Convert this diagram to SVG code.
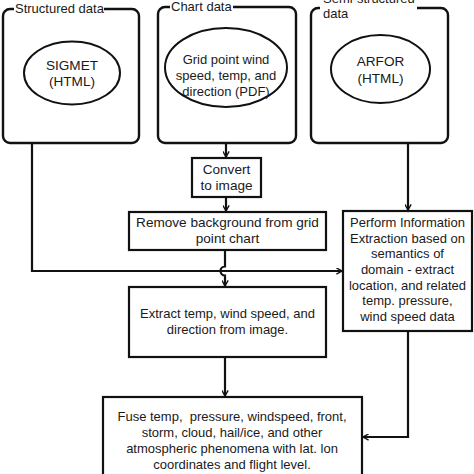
<svg xmlns="http://www.w3.org/2000/svg" width="474" height="474" viewBox="0 0 474 474">
<style>
.t{font-family:"Liberation Sans",Arial,sans-serif;font-size:13px;fill:#1a1a1a;text-anchor:middle;white-space:pre}
.t2{font-size:13.6px}
.lb{font-family:"Liberation Sans",Arial,sans-serif;font-size:13px;fill:#1a1a1a}
.grp{fill:none;stroke:#111;stroke-width:2.4}
.box{fill:#fff;stroke:#111;stroke-width:2.2}
.ell{fill:#fff;stroke:#111;stroke-width:2}
.ln{fill:none;stroke:#111;stroke-width:2.2}
</style>
<defs>
<marker id="ah" viewBox="0 0 10 10" refX="9" refY="5" markerWidth="7" markerHeight="7" markerUnits="userSpaceOnUse" orient="auto">
<path d="M1,0.5 L9,5 L1,9.5" fill="none" stroke="#111" stroke-width="2"/>
</marker>
</defs>
<rect width="474" height="474" fill="#fff"/>

<g id="structured">
<path class="grp" d="M14 9 H10 A7 7 0 0 0 3 16 V136 A7 7 0 0 0 10 143 H132 A7 7 0 0 0 139 136 V16 A7 7 0 0 0 132 9 H104"/>
<text class="lb" x="15" y="13">Structured data</text>
<ellipse class="ell" cx="72" cy="73" rx="48" ry="31.5"/>
<text class="t t2" x="72" y="70">SIGMET</text>
<text class="t t2" x="72" y="86">(HTML)</text>
</g>

<g id="chart">
<path class="grp" d="M170 7 H165 A7 7 0 0 0 158 14 V136 A7 7 0 0 0 165 143 H289 A7 7 0 0 0 296 136 V14 A7 7 0 0 0 289 7 H233"/>
<text class="lb" x="171" y="11">Chart data</text>
<ellipse class="ell" cx="226" cy="67.5" rx="61" ry="39.5"/>
<text class="t" x="226" y="64">Grid point wind</text>
<text class="t" x="226" y="80">speed, temp, and</text>
<text class="t" x="226" y="96">direction (PDF)</text>
</g>

<g id="semi">
<path class="grp" d="M320 8 H318 A7 7 0 0 0 311 15 V136 A7 7 0 0 0 318 143 H441 A7 7 0 0 0 448 136 V15 A7 7 0 0 0 441 8 H417"/>
<text class="lb" x="323" y="3">Semi-structured</text>
<text class="lb" x="323" y="18">data</text>
<ellipse class="ell" cx="380.5" cy="69" rx="49.5" ry="34"/>
<text class="t t2" x="380.5" y="66">ARFOR</text>
<text class="t t2" x="380.5" y="83">(HTML)</text>
</g>

<g id="convert">
<rect class="box" x="192" y="158" width="69" height="39"/>
<text class="t t2" x="226.5" y="174">Convert</text>
<text class="t t2" x="226.5" y="190">to image</text>
</g>

<g id="remove">
<rect class="box" x="129" y="212" width="197" height="38"/>
<text class="t t2" x="227.5" y="227">Remove background from grid</text>
<text class="t t2" x="227.5" y="243">point chart</text>
</g>

<g id="extract">
<rect class="box" x="129" y="287" width="197" height="70"/>
<text class="t" x="227.5" y="318">Extract temp, wind speed, and</text>
<text class="t" x="227.5" y="334">direction from image.</text>
</g>

<g id="perform">
<rect class="box" x="343" y="211" width="129" height="120"/>
<text class="t" x="407.5" y="227">Perform Information</text>
<text class="t" x="407.5" y="243">Extraction based on</text>
<text class="t" x="407.5" y="258">semantics of</text>
<text class="t" x="407.5" y="274">domain - extract</text>
<text class="t" x="407.5" y="290">location, and related</text>
<text class="t" x="407.5" y="305">temp. pressure,</text>
<text class="t" x="407.5" y="321">wind speed data</text>
</g>

<g id="fuse">
<rect class="box" x="103" y="397" width="259" height="95"/>
<text class="t" x="232" y="421">Fuse temp,  pressure, windspeed, front,</text>
<text class="t" x="232" y="437">storm, cloud, hail/ice, and other</text>
<text class="t" x="232" y="453">atmospheric phenomena with lat. lon</text>
<text class="t" x="232" y="469">coordinates and flight level.</text>
</g>

<g id="connectors">
<path class="ln" d="M226 143 V157" marker-end="url(#ah)"/>
<path class="ln" d="M226 197 V211" marker-end="url(#ah)"/>
<path class="ln" d="M32 143 V271 H342" marker-end="url(#ah)"/>
<path class="ln" d="M225 250 V266.5 A4.5 4.5 0 0 0 225 275.5 V286" marker-end="url(#ah)"/>
<path class="ln" d="M408 143 V210" marker-end="url(#ah)"/>
<path class="ln" d="M225 357 V396" marker-end="url(#ah)"/>
<path class="ln" d="M408 331 V437 H363" marker-end="url(#ah)"/>
</g>
</svg>
